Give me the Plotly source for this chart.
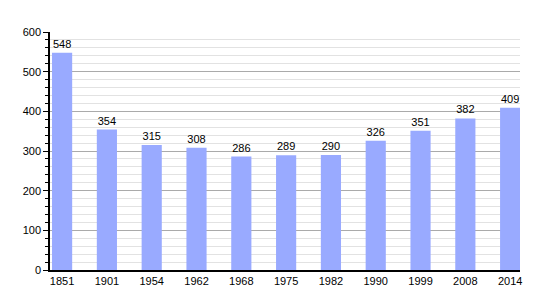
import plotly.graph_objects as go

years = ["1851", "1901", "1954", "1962", "1968", "1975", "1982", "1990", "1999", "2008", "2014"]
population = [548, 354, 315, 308, 286, 289, 290, 326, 351, 382, 409]
y_ticks = [0, 100, 200, 300, 400, 500, 600]

xpos = list(range(len(years)))

fig = go.Figure()
fig.add_trace(go.Bar(
    x=xpos, y=population, width=0.45,
    marker=dict(color="#99aaff", line=dict(width=0)),
    text=[str(v) for v in population], textposition="outside",
    textfont=dict(size=11, color="black", family="Liberation Sans, Arial, sans-serif"),
    cliponaxis=False,
))
fig.update_layout(
    width=550, height=300,
    margin=dict(l=50, r=30, t=32, b=30),
    plot_bgcolor="white", paper_bgcolor="white",
    showlegend=False,
    font=dict(family="Liberation Sans, Arial, sans-serif", size=11, color="black"),
    xaxis=dict(range=[-0.27, 10.22], tickvals=xpos, ticktext=years, showgrid=False,
               showline=True, linecolor="black", linewidth=1.5, ticks="", zeroline=False,
               tickfont=dict(size=11)),
    yaxis=dict(range=[0, 600], tickvals=y_ticks, showgrid=True, gridcolor="#aaaaaa", gridwidth=1,
               showline=True, linecolor="black", linewidth=1.5, ticks="outside", ticklen=5,
               tickcolor="black", zeroline=False, tickfont=dict(size=11),
               minor=dict(dtick=20, showgrid=True, gridcolor="#e2e2e2", ticks="outside",
                          ticklen=3, tickcolor="black")),
)
fig.write_html("out.html")
